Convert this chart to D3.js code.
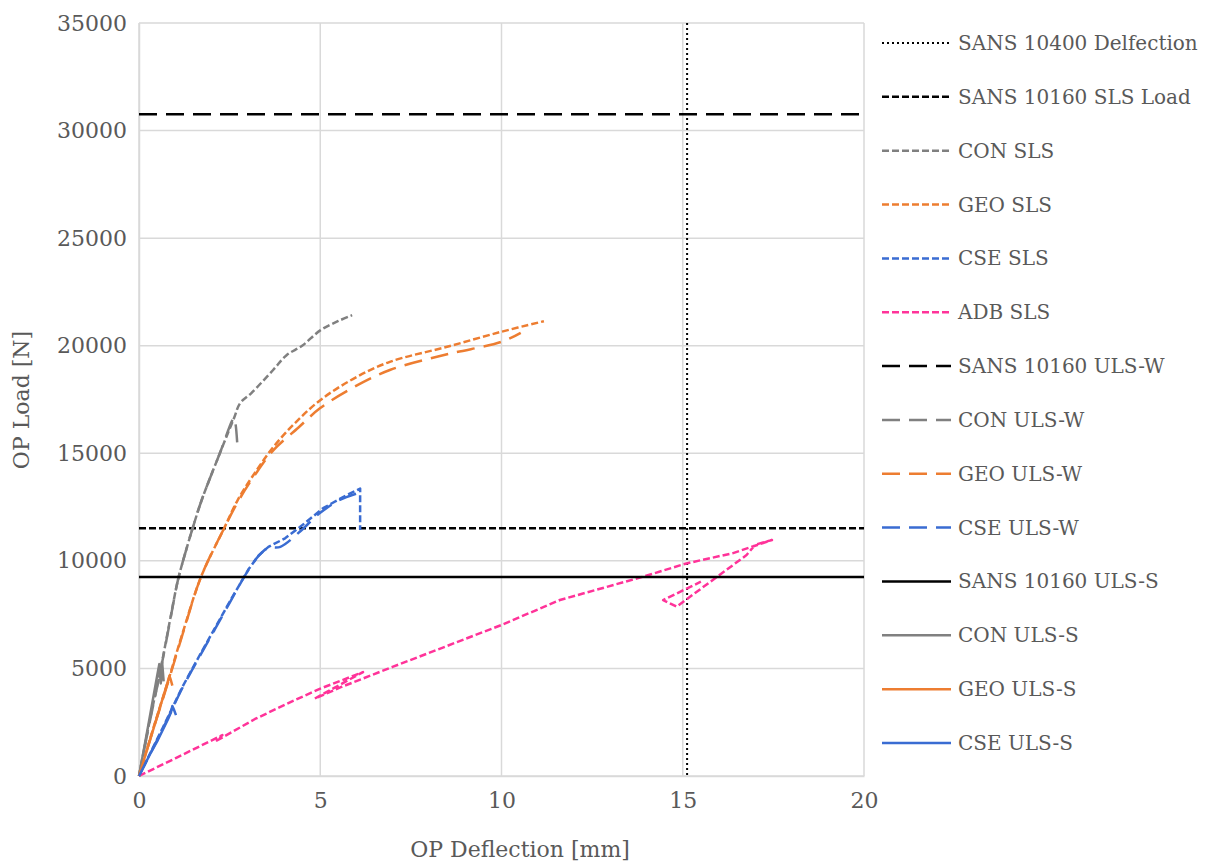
<!DOCTYPE html>
<html>
<head>
<meta charset="utf-8">
<script src="https://cdn.jsdelivr.net/npm/d3@7"></script>
<style>
  html, body { margin: 0; padding: 0; background: #ffffff; }
  svg text { font-family: "DejaVu Serif", serif; fill: #595959; }
</style>
</head>
<body>
<svg id="chart" width="1205" height="864"></svg>
<script>
// Axis ticks
const xTicks = [0, 5, 10, 15, 20];
const yTicks = [0, 5000, 10000, 15000, 20000, 25000, 30000, 35000];

// Code limits
const sansDeflection = 15.12;   // SANS 10400 deflection limit [mm]
const sansSlsLoad = 11520;      // SANS 10160 SLS load [N]
const sansUlsW = 30760;         // SANS 10160 ULS-W load [N]
const sansUlsS = 9250;          // SANS 10160 ULS-S load [N]

// Load-deflection curves: [deflection mm, load N]
const conSLS = [[0,0],[0.3,2600],[0.6,5000],[0.85,7200],[1.08,9150],[1.3,10500],[1.48,11520],[1.73,12830],[2.23,15000],[2.62,16630],[2.79,17330],[3.1,17800],[3.7,18870],[4.07,19560],[4.5,20000],[5.01,20725],[5.5,21150],[5.88,21420]];
const geoSLS = [[0,0],[0.4,2250],[0.81,4460],[1.25,6900],[1.71,9250],[2.35,11520],[2.73,12850],[3.2,14100],[3.71,15300],[4.3,16400],[5.0,17470],[5.9,18450],[6.92,19250],[8.5,19950],[10.0,20650],[11.17,21140]];
const cseSLS = [[0,0],[0.67,2290],[1.2,4150],[1.67,5600],[2.07,6800],[2.5,8100],[3.02,9605],[3.3,10250],[3.57,10650],[4.03,11050],[4.44,11570],[5.08,12450],[5.73,13060],[6.1,13360],[6.1,11430]];
const adbSLS = [[0,0],[1.0,820],[2.3,1900],[2.15,1650],[3.2,2650],[4.3,3530],[5.0,4060],[6.18,4830],[4.85,3600],[5.6,4150],[7.01,5080],[10.0,7020],[11.61,8180],[13.9,9260],[15.1,9880],[16.39,10360],[17.46,10970],[17.0,10750],[16.76,10270],[14.83,7870],[14.46,8180],[15.5,9030]];

const conULSW = [[0,0],[0.3,2550],[0.6,4950],[0.85,7150],[1.08,9150],[1.3,10500],[1.48,11520],[1.73,12830],[2.23,15000],[2.62,16630],[2.66,16400],[2.71,15470]];
const geoULSW = [[0,0],[0.4,2200],[0.81,4400],[1.25,6850],[1.71,9250],[2.35,11520],[2.73,12750],[3.2,14000],[3.71,15150],[4.4,16200],[5.0,17100],[5.9,18050],[6.92,18870],[8.5,19600],[10.0,20180],[10.53,20600]];
const cseULSW = [[0,0],[0.67,2250],[1.2,4100],[1.67,5550],[2.07,6750],[2.5,8050],[3.02,9580],[3.3,10230],[3.56,10600],[3.9,10650],[4.4,11300],[4.99,12220],[5.54,12830],[6.04,13150]];

const conULSS = [[0,0],[0.25,2300],[0.5,4650],[0.56,5200],[0.6,4300],[0.64,5250],[0.68,4400]];
const geoULSS = [[0,0],[0.4,2200],[0.78,4300],[0.84,4650],[0.88,4450],[0.92,4200]];
const cseULSS = [[0,0],[0.3,1000],[0.52,1670],[0.8,2640],[0.88,2950],[0.92,3250],[0.96,3100],[1.02,2830]];

// Colours
const cGray = "#808080", cOrange = "#ED7D31", cBlue = "#3A6CD2", cPink = "#FF3399", cBlack = "#000000";

const svg = d3.select("#chart");
const plot = { left: 139, right: 864, top: 23, bottom: 776 };

const x = d3.scaleLinear().domain([0, 20]).range([plot.left, plot.right]);
const y = d3.scaleLinear().domain([0, 35000]).range([plot.bottom, plot.top]);

// Grid
const grid = svg.append("g").attr("stroke", "#d9d9d9").attr("stroke-width", 1.5);
grid.selectAll("line.h").data(yTicks).join("line")
  .attr("x1", plot.left).attr("x2", plot.right)
  .attr("y1", d => y(d)).attr("y2", d => y(d));
grid.selectAll("line.v").data(xTicks).join("line")
  .attr("y1", plot.top).attr("y2", plot.bottom)
  .attr("x1", d => x(d)).attr("x2", d => x(d));

// Axes
const xAxis = svg.append("g").attr("transform", `translate(0,${plot.bottom})`)
  .call(d3.axisBottom(x).tickValues(xTicks).tickSize(0).tickPadding(16).tickFormat(d3.format("d")));
const yAxis = svg.append("g").attr("transform", `translate(${plot.left},0)`)
  .call(d3.axisLeft(y).tickValues(yTicks).tickSize(0).tickPadding(12).tickFormat(d3.format("d")));
[xAxis, yAxis].forEach(a => {
  a.select(".domain").attr("stroke", "#d9d9d9").attr("stroke-width", 1.5);
  a.selectAll("text").style("font-size", "22px").attr("fill", "#595959")
    .style("font-family", "'DejaVu Serif', serif");
});

svg.append("text").attr("x", 520).attr("y", 857).attr("text-anchor", "middle")
  .style("font-size", "22px").text("OP Deflection [mm]");
svg.append("text").attr("transform", "translate(29,400) rotate(-90)").attr("text-anchor", "middle")
  .style("font-size", "22px").text("OP Load [N]");

// Series definitions (drawn in legend order); sharp-cornered series stay linear
const dotted = "2,3", sysDash = "7,3", longDash = "18,9";
const series = [
  { name: "SANS 10400 Delfection", color: cBlack, dash: dotted, width: 2, vline: sansDeflection },
  { name: "SANS 10160 SLS Load", color: cBlack, dash: sysDash, width: 2.5, hline: sansSlsLoad },
  { name: "CON SLS", color: cGray, dash: sysDash, width: 2.5, data: conSLS, smooth: true },
  { name: "GEO SLS", color: cOrange, dash: sysDash, width: 2.5, data: geoSLS, smooth: true },
  { name: "CSE SLS", color: cBlue, dash: sysDash, width: 2.5, data: cseSLS, smooth: false },
  { name: "ADB SLS", color: cPink, dash: sysDash, width: 2.5, data: adbSLS, smooth: false },
  { name: "SANS 10160 ULS-W", color: cBlack, dash: longDash, width: 2.5, hline: sansUlsW },
  { name: "CON ULS-W", color: cGray, dash: longDash, width: 2.5, data: conULSW, smooth: true },
  { name: "GEO ULS-W", color: cOrange, dash: longDash, width: 2.5, data: geoULSW, smooth: true },
  { name: "CSE ULS-W", color: cBlue, dash: longDash, width: 2.5, data: cseULSW, smooth: true },
  { name: "SANS 10160 ULS-S", color: cBlack, dash: null, width: 2.5, hline: sansUlsS },
  { name: "CON ULS-S", color: cGray, dash: null, width: 2.5, data: conULSS, smooth: false },
  { name: "GEO ULS-S", color: cOrange, dash: null, width: 2.5, data: geoULSS, smooth: false },
  { name: "CSE ULS-S", color: cBlue, dash: null, width: 2.5, data: cseULSS, smooth: false }
];

const smoothLine = d3.line().x(d => x(d[0])).y(d => y(d[1])).curve(d3.curveCatmullRom.alpha(0.5));
const straightLine = d3.line().x(d => x(d[0])).y(d => y(d[1])).curve(d3.curveLinear);
const marks = svg.append("g").attr("fill", "none").attr("stroke-linejoin", "round");

series.forEach(s => {
  let path;
  if (s.data) {
    path = marks.append("path").attr("d", (s.smooth ? smoothLine : straightLine)(s.data));
  } else if (s.hline !== undefined) {
    path = marks.append("line").attr("x1", plot.left).attr("x2", plot.right)
      .attr("y1", y(s.hline)).attr("y2", y(s.hline));
  } else {
    path = marks.append("line").attr("y1", plot.top).attr("y2", plot.bottom)
      .attr("x1", x(s.vline)).attr("x2", x(s.vline));
  }
  path.attr("stroke", s.color).attr("stroke-width", s.width)
    .attr("stroke-dasharray", s.dash);
});

// Legend
const legend = svg.append("g");
const rowY = d3.scaleLinear().domain([0, series.length - 1]).range([43, 743]);
series.forEach((s, i) => {
  const g = legend.append("g").attr("transform", `translate(0,${rowY(i)})`);
  g.append("line").attr("x1", 882).attr("x2", 951).attr("y1", 0).attr("y2", 0)
    .attr("stroke", s.color).attr("stroke-width", s.width).attr("stroke-dasharray", s.dash);
  g.append("text").attr("x", 958).attr("y", 7).style("font-size", "20px").text(s.name);
});
</script>
</body>
</html>
